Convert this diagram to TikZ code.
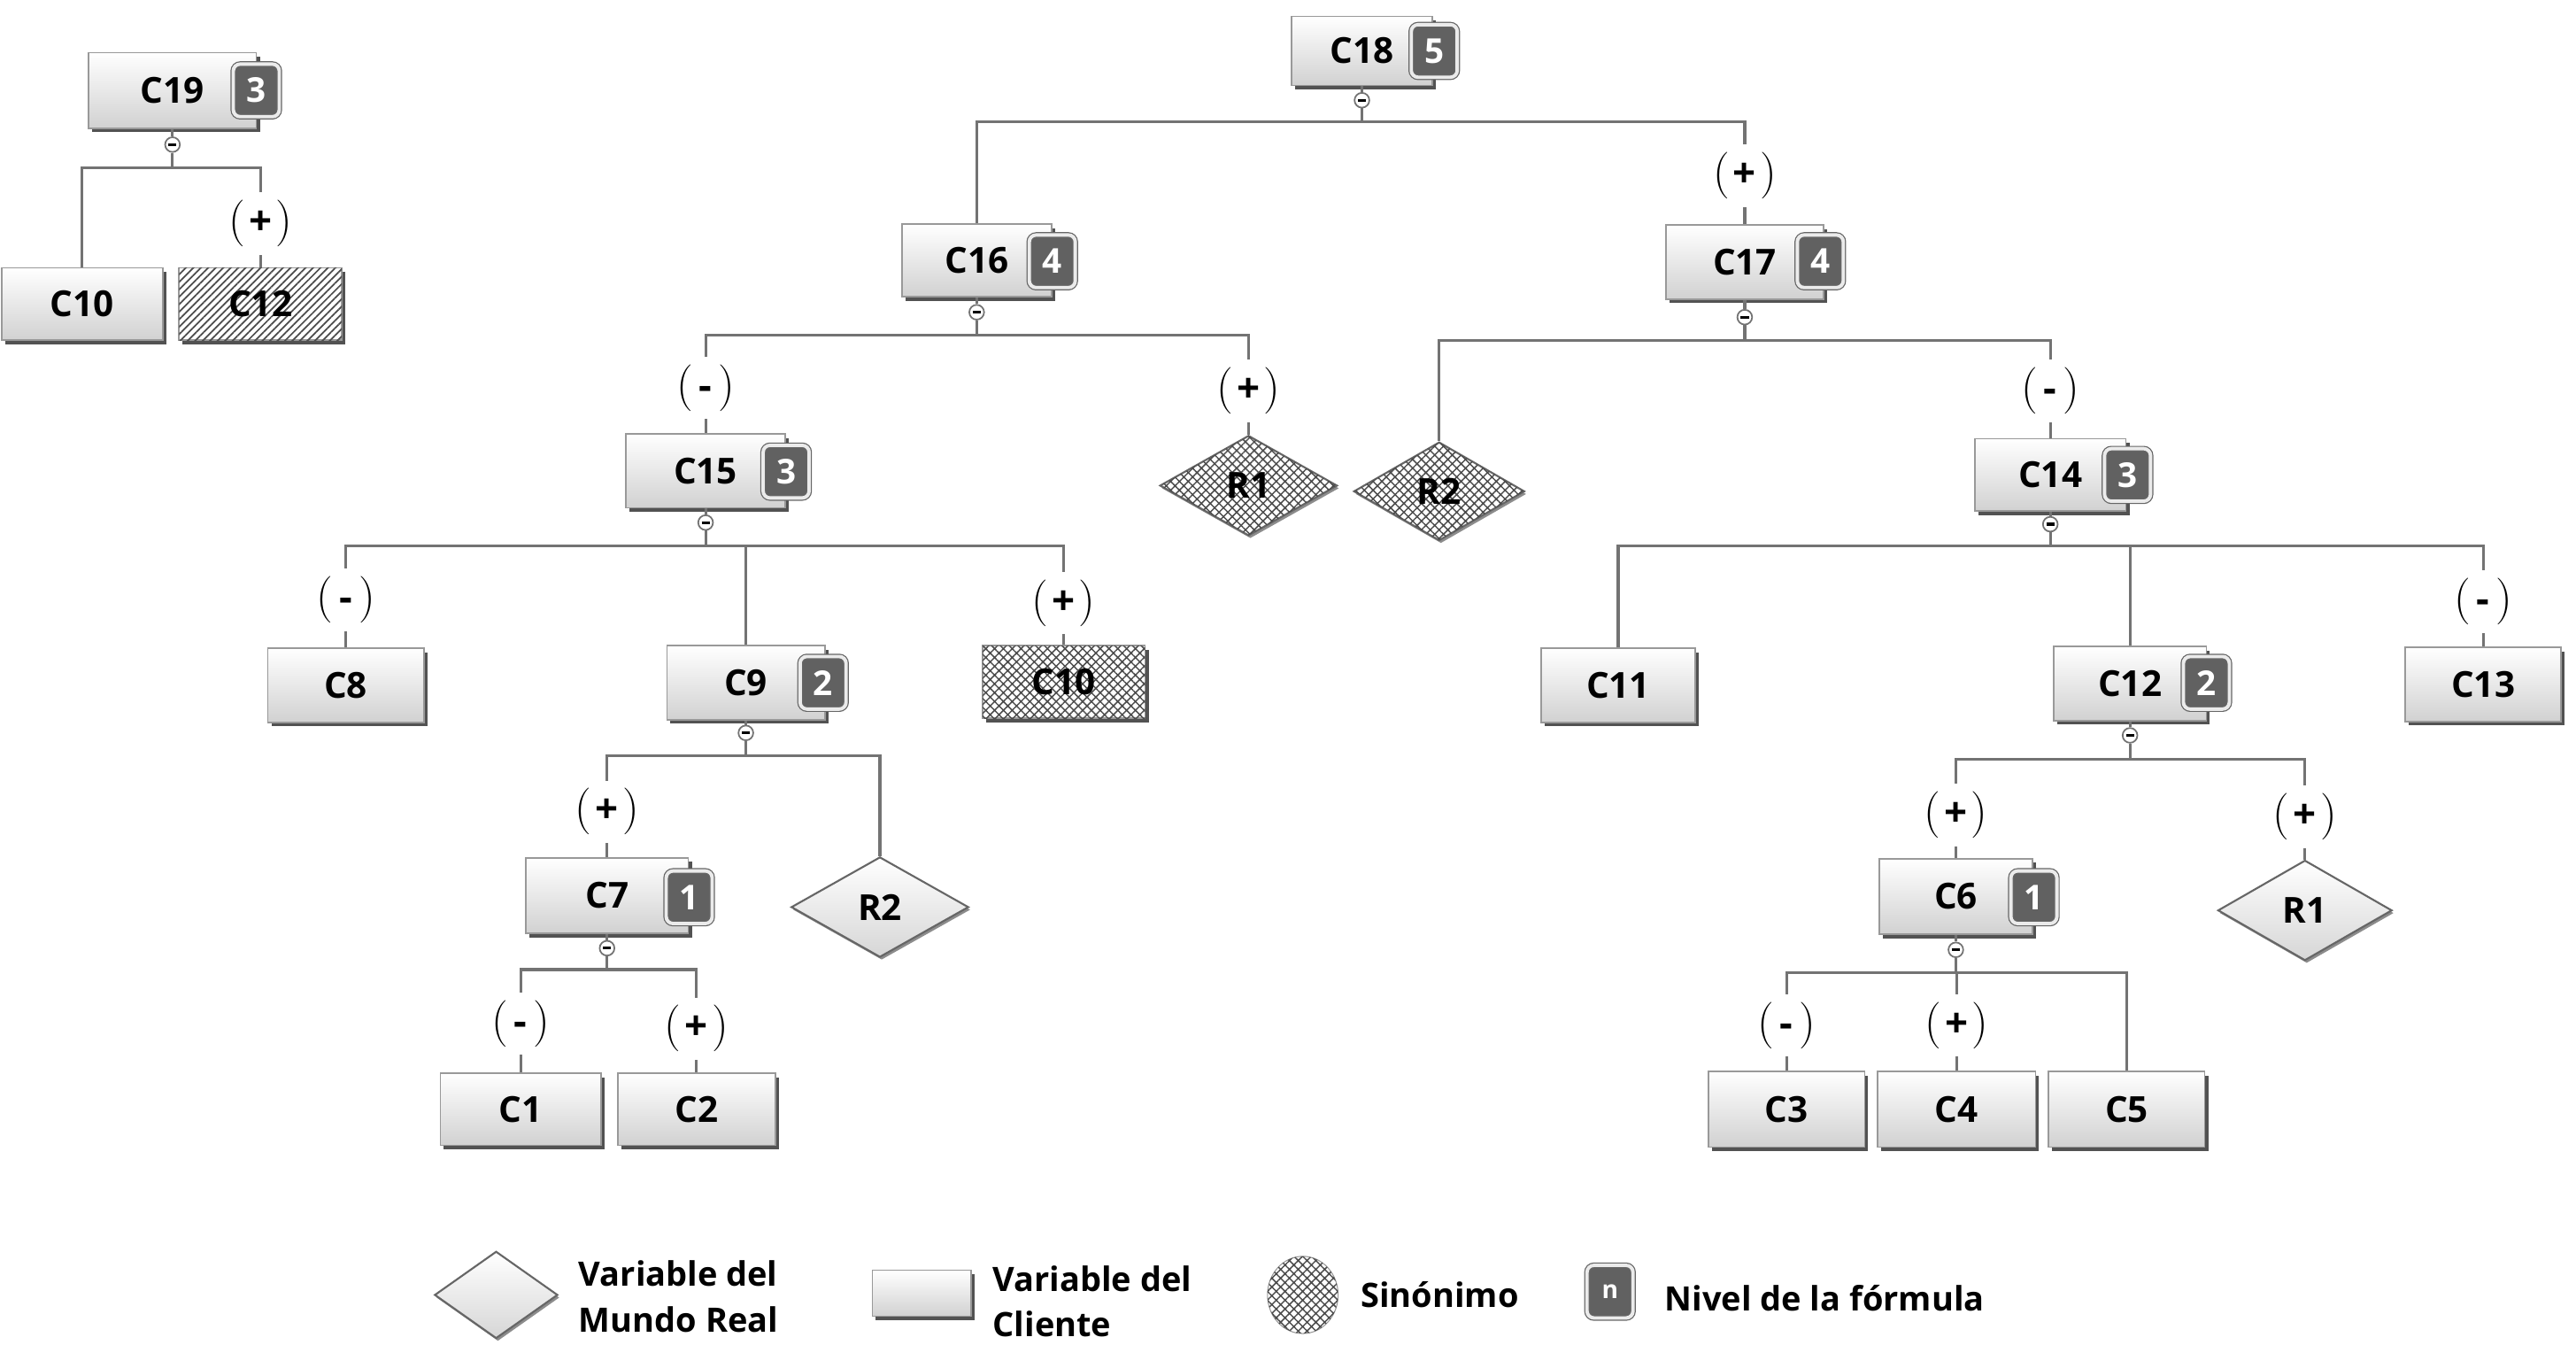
\documentclass[tikz,border=0pt]{standalone}
\usepackage{fontspec}
\newfontfamily\osans{Open Sans}
\usetikzlibrary{shapes.geometric,shadows,patterns.meta,calc}
\newcommand{\myu}{0.01856cm}
\newcommand{\pls}{{\fontsize{15}{15}\selectfont(}\hspace{1.2pt}{\osans\bfseries\fontsize{13}{13}\selectfont+}\hspace{1.2pt}{\fontsize{15}{15}\selectfont)}}
\newcommand{\mns}{{\fontsize{15}{15}\selectfont(}\hspace{2pt}{\osans\bfseries\fontsize{13}{13}\selectfont-}\hspace{2pt}{\fontsize{15}{15}\selectfont)}}
\tikzset{
  conn/.style={draw=black!55, line width=0.9pt},
  cbase/.style={rectangle, draw=black!40, line width=0.5pt, inner sep=0pt,
    font=\osans\bfseries\fontsize{11.5}{12}\selectfont,
    drop shadow={shadow xshift=0.04cm, shadow yshift=-0.046cm, opacity=1, fill=black!68}},
  cface/.style={cbase, top color=white, bottom color=black!18},
  hface/.style={cbase, fill=white, postaction={pattern={Hatch[angle=45,distance=2pt,line width=0.42pt]}, pattern color=black!70}},
  hlines/.style={cbase, fill=white, postaction={pattern={Lines[angle=45,distance=1.7pt,line width=0.5pt]}, pattern color=black!70}},
  dbase/.style={diamond, draw=black!60, line width=0.6pt, inner sep=0pt,
    font=\osans\bfseries\fontsize{11.5}{12}\selectfont,
    drop shadow={shadow xshift=0.02cm, shadow yshift=-0.03cm, opacity=1, fill=black!45}},
  dface/.style={dbase, top color=white, bottom color=black!16},
  dhatch/.style={dbase, fill=white, postaction={pattern={Hatch[angle=45,distance=2pt,line width=0.42pt]}, pattern color=black!70}},
  badge/.style={rectangle, rounded corners=2.2pt, fill=black!62, draw=black!60, line width=0.35pt,
    double=black!8, double distance=1.1pt, minimum width=28*\myu, minimum height=32*\myu,
    inner sep=0pt, text=white, font=\osans\bfseries\fontsize{11}{11}\selectfont},
  mcirc/.style={circle, draw=black!55, line width=0.5pt, fill=white, minimum size=9*\myu, inner sep=0pt},
  sgn/.style={fill=white, inner xsep=0.5pt, inner ysep=0pt, minimum height=38*\myu},
  lgt/.style={anchor=west, align=left, inner sep=0pt, font=\osans\bfseries\fontsize{10.8}{14.6}\selectfont}
}
\begin{document}
\begin{tikzpicture}[x=\myu, y=-\myu]
\fill[white] (0,0) rectangle (1568,818);
\useasboundingbox (0,0) rectangle (1568,818);

% ---- boxes ----
\node[cface, minimum width=86*\myu, minimum height=42*\myu] (C18) at (829,31) {C18};
\node[cface, minimum width=102*\myu, minimum height=46*\myu] (C19) at (105,55) {C19};
\node[cface, minimum width=98*\myu, minimum height=44*\myu] (C10a) at (50,185) {C10};
\node[hlines, minimum width=99*\myu, minimum height=44*\myu] (C12a) at (158.5,185) {C12};
\node[cface, minimum width=91*\myu, minimum height=44*\myu] (C16) at (594.5,158.5) {C16};
\node[cface, minimum width=96*\myu, minimum height=45*\myu] (C17) at (1062,159.5) {C17};
\node[cface, minimum width=97*\myu, minimum height=45*\myu] (C15) at (429.5,286.5) {C15};
\node[cface, minimum width=92*\myu, minimum height=44*\myu] (C14) at (1248,289) {C14};
\node[cface, minimum width=95*\myu, minimum height=45*\myu] (C8) at (210.5,417) {C8};
\node[cface, minimum width=96*\myu, minimum height=45*\myu] (C9) at (454,415.5) {C9};
\node[hface, minimum width=99*\myu, minimum height=44*\myu] (C10b) at (647.5,415) {C10};
\node[cface, minimum width=94*\myu, minimum height=45*\myu] (C11) at (985,417) {C11};
\node[cface, minimum width=93*\myu, minimum height=45*\myu] (C12) at (1296.5,416) {C12};
\node[cface, minimum width=95*\myu, minimum height=45*\myu] (C13) at (1511.5,416.5) {C13};
\node[cface, minimum width=99*\myu, minimum height=46*\myu] (C7) at (369.5,545) {C7};
\node[cface, minimum width=93*\myu, minimum height=46*\myu] (C6) at (1190.5,545.5) {C6};
\node[cface, minimum width=98*\myu, minimum height=44*\myu] (C1) at (317,675) {C1};
\node[cface, minimum width=96*\myu, minimum height=44*\myu] (C2) at (424,675) {C2};
\node[cface, minimum width=95*\myu, minimum height=46*\myu] (C3) at (1087.5,675) {C3};
\node[cface, minimum width=96*\myu, minimum height=46*\myu] (C4) at (1191,675) {C4};
\node[cface, minimum width=95*\myu, minimum height=46*\myu] (C5) at (1294.5,675) {C5};

% ---- diamonds ----
\node[dhatch, minimum width=108*\myu, minimum height=61*\myu] (R1a) at (760,295.5) {R1};
\node[dhatch, minimum width=104*\myu, minimum height=60*\myu] (R2a) at (876,299) {R2};
\node[dface, minimum width=108*\myu, minimum height=61*\myu] (R2b) at (535.6,552) {R2};
\node[dface, minimum width=106*\myu, minimum height=61*\myu] (R1b) at (1403,554) {R1};

% ---- badges ----
\node[badge] (b18) at (873,31) {5};
\node[badge] (b19) at (156,55) {3};
\node[badge] (b16) at (640.5,159) {4};
\node[badge] (b17) at (1108,159) {4};
\node[badge] (b15) at (478.5,287) {3};
\node[badge] (b14) at (1295,289) {3};
\node[badge] (b9) at (501,415.5) {2};
\node[badge] (b12) at (1343,415.5) {2};
\node[badge] (b7) at (419.5,546) {1};
\node[badge] (b6) at (1238,546) {1};

% ---- collapse markers and junctions ----
\node[mcirc] (m18) at (829,61) {\rule{2.6pt}{0.9pt}};
\node[mcirc] (m19) at (105,88) {\rule{2.6pt}{0.9pt}};
\node[mcirc] (m16) at (594.5,190) {\rule{2.6pt}{0.9pt}};
\node[mcirc] (m17) at (1062,193) {\rule{2.6pt}{0.9pt}};
\node[mcirc] (m15) at (429.5,318) {\rule{2.6pt}{0.9pt}};
\node[mcirc] (m14) at (1248,319) {\rule{2.6pt}{0.9pt}};
\node[mcirc] (m9) at (454,446) {\rule{2.6pt}{0.9pt}};
\node[mcirc] (m12) at (1296.5,447.5) {\rule{2.6pt}{0.9pt}};
\node[mcirc] (m7) at (369.5,577) {\rule{2.6pt}{0.9pt}};
\node[mcirc] (m6) at (1190.5,578) {\rule{2.6pt}{0.9pt}};

\coordinate (j18) at (829,74);
\coordinate (j19) at (105,102);
\coordinate (j16) at (594.5,204);
\coordinate (j17) at (1062,207);
\coordinate (j15) at (429.5,332);
\coordinate (j14) at (1248,332);
\coordinate (j9) at (454,460);
\coordinate (j12) at (1296.5,462);
\coordinate (j7) at (369.5,590);
\coordinate (j6) at (1190.5,592);

% ---- connectors ----
\foreach \p in {18,19,16,17,15,14,9,12,7,6}{
  \draw[conn] (C\p.south) -- (m\p.north);
  \draw[conn] (m\p.south) -- (j\p);
}
\draw[conn] (j18) -| (C16.north);
\draw[conn] (j18) -| (C17.north);
\draw[conn] (j19) -| (C10a.north);
\draw[conn] (j19) -| (C12a.north);
\draw[conn] (j16) -| (C15.north);
\draw[conn] (j16) -| (R1a.north);
\draw[conn] (j17) -| (R2a.north);
\draw[conn] (j17) -| (C14.north);
\draw[conn] (j15) -| (C8.north);
\draw[conn] (j15) -| (C9.north);
\draw[conn] (j15) -| (C10b.north);
\draw[conn] (j14) -| (C11.north);
\draw[conn] (j14) -| (C12.north);
\draw[conn] (j14) -| (C13.north);
\draw[conn] (j9) -| (C7.north);
\draw[conn] (j9) -| (R2b.north);
\draw[conn] (j12) -| (C6.north);
\draw[conn] (j12) -| (R1b.north);
\draw[conn] (j7) -| (C1.north);
\draw[conn] (j7) -| (C2.north);
\draw[conn] (j6) -| (C3.north);
\draw[conn] (j6) -| (C4.north);
\draw[conn] (j6) -| (C5.north);

% ---- sign labels ----
\node[sgn] (s17) at (1062,107) {\pls};
\node[sgn] (s12a) at (158.5,136) {\pls};
\node[sgn] (s15) at (429.5,236) {\mns};
\node[sgn] (sR1a) at (760,238) {\pls};
\node[sgn] (s14) at (1248,238) {\mns};
\node[sgn] (s8) at (210.5,365) {\mns};
\node[sgn] (s10b) at (647.5,367) {\pls};
\node[sgn] (s13) at (1511.5,366) {\mns};
\node[sgn] (s7) at (369.5,494) {\pls};
\node[sgn] (s6) at (1190.5,496) {\pls};
\node[sgn] (sR1b) at (1403,497) {\pls};
\node[sgn] (s1) at (317,623) {\mns};
\node[sgn] (s2) at (424,626) {\pls};
\node[sgn] (s3) at (1087.5,624) {\mns};
\node[sgn] (s4) at (1191,624) {\pls};

% ---- legend ----
\node[dface, minimum width=75*\myu, minimum height=53*\myu] (legR) at (302,788) {};
\node[lgt] (legRt) at (352,789) {Variable del\\Mundo Real};
\node[cface, minimum width=60*\myu, minimum height=28*\myu] (legC) at (561,787) {};
\node[lgt] (legCt) at (604,792) {Variable del\\Cliente};
\node[ellipse, draw=black!40, line width=0.3pt, fill=white, minimum width=43*\myu, minimum height=47*\myu,
  postaction={pattern={Hatch[angle=45,distance=2pt,line width=0.42pt]}, pattern color=black!70}] (legS) at (793,788) {};
\node[lgt] (legSt) at (828,788) {Sinónimo};
\node[badge, font=\osans\bfseries\fontsize{8}{8}\selectfont] (legB) at (980,786) {n};
\node[lgt] (legBt) at (1013,790) {Nivel de la fórmula};
\end{tikzpicture}
\end{document}
